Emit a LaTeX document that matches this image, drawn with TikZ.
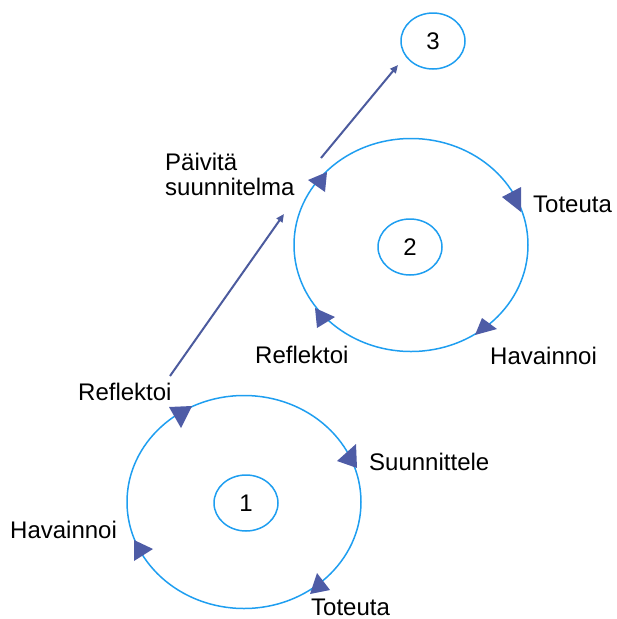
\documentclass[tikz,border=0pt]{standalone}
\usepackage{fontspec}
\setmainfont{Liberation Sans}
\usetikzlibrary{shapes.geometric,arrows.meta}
\definecolor{ringblue}{HTML}{1E9EF0}
\definecolor{markblue}{HTML}{4E5CA6}
\definecolor{linkblue}{HTML}{4C5B9E}
\tikzset{
  ring/.style={draw=ringblue, line width=1.5pt, ellipse, inner sep=0pt},
  bigring/.style={ring, minimum width=234pt, minimum height=213pt},
  numring/.style={ring, minimum width=64pt, minimum height=56pt, font=\fontsize{24}{25}\selectfont},
  lbl/.style={anchor=base west, inner sep=0pt, font=\fontsize{24}{25}\selectfont, align=left},
  dirmark/.style={fill=markblue, draw=none},
  link/.style={draw=linkblue, line width=2pt, -{Triangle[length=8pt,width=7pt]}}
}
\begin{document}
\begin{tikzpicture}[x=1pt,y=-1pt]
\useasboundingbox (0,0) rectangle (617,619);

% cycle 1
\node[bigring] (r1) at (244,502) {};
\node[numring] (n1) at (246,503) {1};
% cycle 2
\node[bigring] (r2) at (411,245) {};
\node[numring] (n2) at (410,247) {2};
% next cycle
\node[numring] (n3) at (433,41) {3};

% labels
\node[lbl] (refl1) at (78,400) {Reflektoi};
\node[lbl] (suun1) at (369,470) {Suunnittele};
\node[lbl] (hav1) at (10,538) {Havainnoi};
\node[lbl] (tot1) at (311,615) {Toteuta};
\node[lbl] (paiv) at (165,195) {Päivitä\\suunnitelma};
\node[lbl] (tot2) at (533,212) {Toteuta};
\node[lbl] (refl2) at (255,363) {Reflektoi};
\node[lbl] (hav2) at (490,364) {Havainnoi};

% direction markers on cycle 1
\fill[dirmark] (169,407) -- (192,406) -- (181,428) -- cycle;
\fill[dirmark] (337,461) -- (356,444) -- (357,468) -- cycle;
\fill[dirmark] (317,573) -- (310,594) -- (330,590) -- cycle;
\fill[dirmark] (134,540) -- (134,561) -- (153,549) -- cycle;
% direction markers on cycle 2
\fill[dirmark] (308,180) -- (327,172) -- (325,192) -- cycle;
\fill[dirmark] (502,197) -- (521,187) -- (521,212) -- cycle;
\fill[dirmark] (482,318) -- (475,335) -- (497,329) -- cycle;
\fill[dirmark] (315,308) -- (317,328) -- (335,317) -- cycle;

% links between cycles
\coordinate (a1) at (170,376);
\coordinate (b1) at (284,214);
\coordinate (a2) at (321,158);
\coordinate (b2) at (398,65);
\draw[link] (a1) -- (b1);
\draw[link] (a2) -- (b2);
\end{tikzpicture}
\end{document}
